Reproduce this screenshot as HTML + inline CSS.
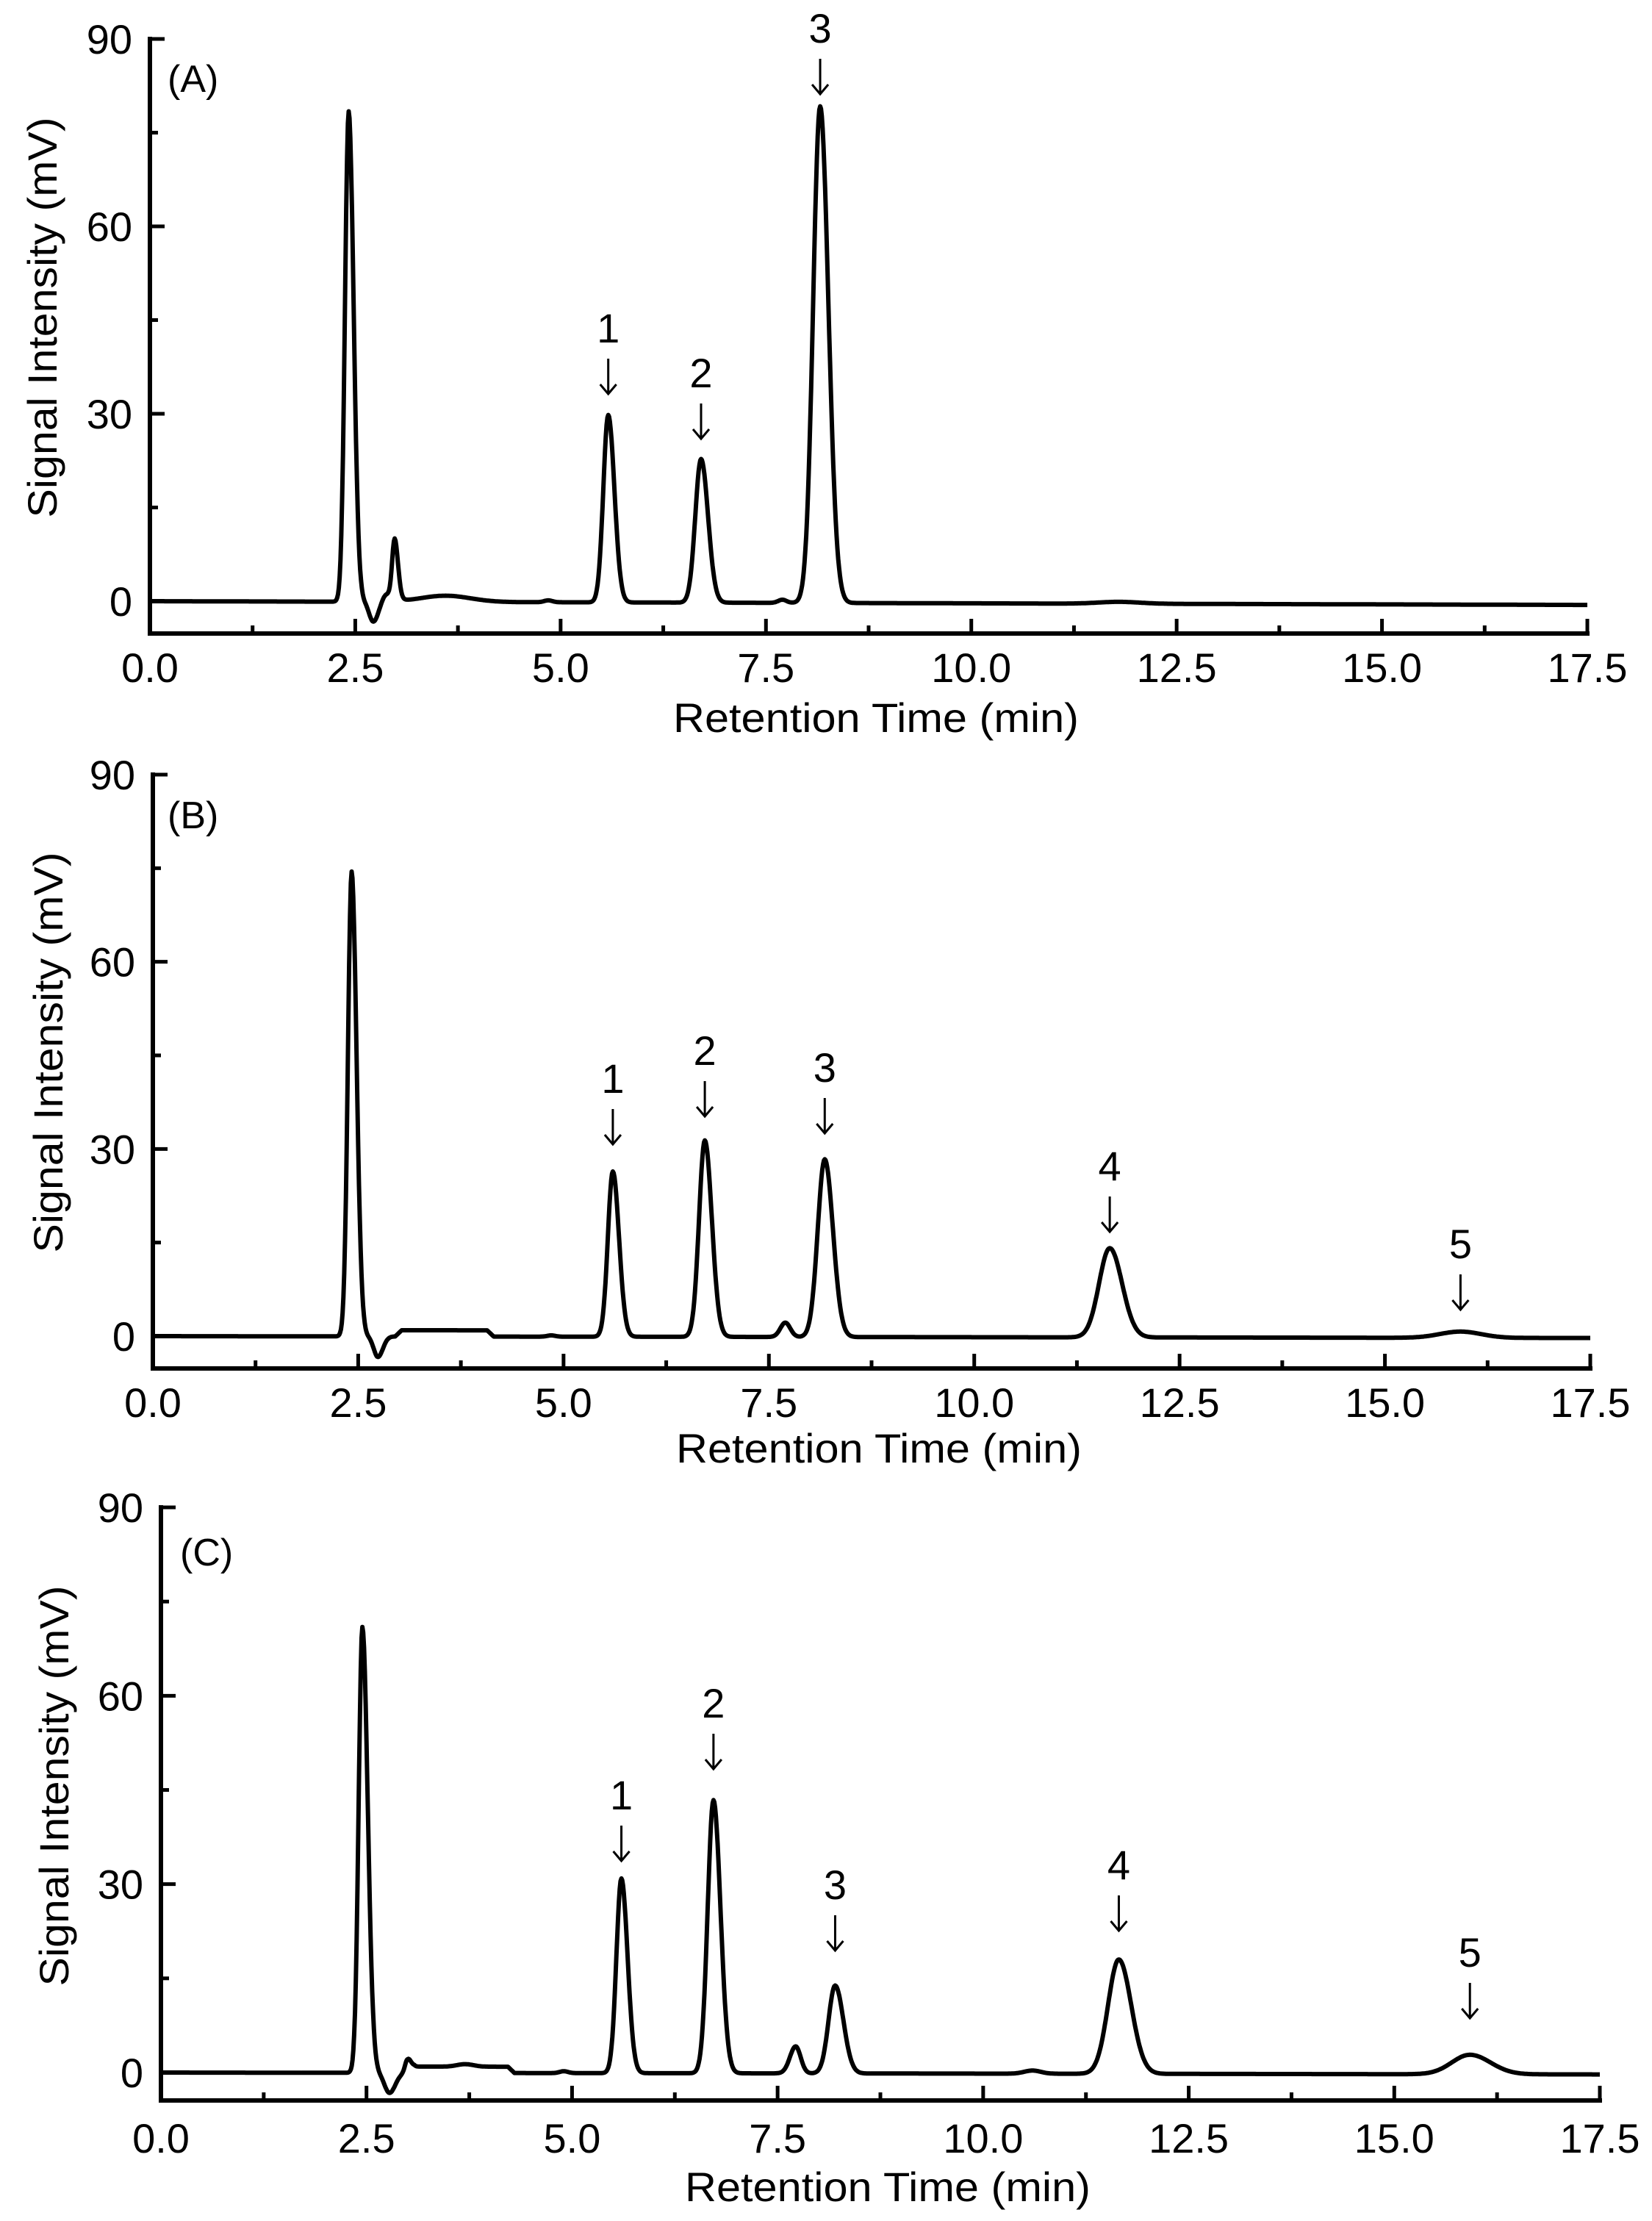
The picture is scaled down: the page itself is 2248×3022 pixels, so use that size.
<!DOCTYPE html>
<html><head><meta charset="utf-8"><style>
html,body{margin:0;padding:0;background:#fff;}
svg{display:block;}
text{font-family:"Liberation Sans",Arial,sans-serif;fill:#000;}
</style></head><body>
<svg id="s" width="2248" height="3022" viewBox="0 0 2248 3022" xmlns="http://www.w3.org/2000/svg">
<rect width="2248" height="3022" fill="#fff"/>
<g id="g"></g>
</svg>
<script>
var NS="http://www.w3.org/2000/svg",G=document.getElementById('g');
function el(t,a,txt){var e=document.createElementNS(NS,t);for(var k in a)e.setAttribute(k,a[k]);if(txt!==undefined)e.textContent=txt;G.appendChild(e);return e;}
function gs(t,c,h,sl,sr){var s=t<c?sl:sr;var d=(t-c)/s;return h*Math.exp(-0.5*d*d);}
function step(t,a,b,h){ if(t<a||t>b) return 0; var r=Math.min((t-a)/0.08,1,(b-t)/0.08); return h*r; }
var panels=[
 {x0:204,x1:2160,y0:818,y90:53,ax:862,lab:"(A)",lx:228,ly:125,ytx:57,yty:432,xtb:928,xttb:996,
  peaks:[[2.42,78.5,0.045,0.06],[2.72,-3.2,0.05,0.06],[2.98,9.3,0.03,0.04],[2.88,1.2,0.05,0.1],[3.6,1.0,0.3,0.3],[4.85,0.3,0.05,0.05],[5.58,30,0.06,0.075],[6.71,23,0.07,0.085],[7.7,0.5,0.05,0.05],[8.16,79.5,0.085,0.1],[11.8,0.3,0.25,0.25]],
  drift:-0.6,plat:null,
  labels:[[5.58,"1",466],[6.71,"2",527],[8.16,"3",58]]},
 {x0:208,x1:2164,y0:1818,y90:1054,ax:1862,lab:"(B)",lx:228,ly:1127,ytx:65,yty:1432,xtb:1928,xttb:1990,
  peaks:[[2.42,74.5,0.045,0.06],[2.74,-3.3,0.05,0.06],[4.85,0.2,0.05,0.05],[5.6,26.5,0.06,0.075],[6.72,31.5,0.07,0.085],[7.7,2.3,0.06,0.06],[8.18,28.5,0.085,0.1],[11.65,14.3,0.13,0.15],[15.92,1.0,0.25,0.25]],
  drift:-0.3,plat:[2.95,4.15,1.0],
  labels:[[5.6,"1",1487],[6.72,"2",1449],[8.18,"3",1472],[11.65,"4",1606],[15.92,"5",1712]]},
 {x0:219,x1:2177,y0:2820,y90:2051,ax:2858,lab:"(C)",lx:245,ly:2130,ytx:73,yty:2430,xtb:2929,xttb:2995,
  peaks:[[2.45,71,0.045,0.065],[2.78,-3.2,0.06,0.07],[3.0,2.2,0.03,0.04],[3.7,0.4,0.1,0.1],[4.9,0.3,0.05,0.05],[5.6,31,0.06,0.075],[6.72,43.5,0.07,0.085],[7.72,4.3,0.07,0.06],[8.2,14,0.08,0.1],[10.6,0.5,0.1,0.1],[11.65,18.2,0.13,0.15],[15.92,3.1,0.22,0.25]],
  drift:-0.3,plat:[3.0,4.3,1.0],
  labels:[[5.6,"1",2462],[6.72,"2",2337],[8.2,"3",2584],[11.65,"4",2557],[15.92,"5",2676]]}
];
panels.forEach(function(p){
 var sx=(p.x1-p.x0)/17.5, sy=(p.y0-p.y90)/90;
 function X(t){return p.x0+t*sx;} function Y(v){return p.y0-v*sy;}
 el('path',{d:"M"+p.x0+" "+p.y90+" V"+p.ax+" H"+p.x1,fill:"none",stroke:"#000","stroke-width":6,"stroke-linecap":"square"});
 for(var v=0;v<=90;v+=15){var L=(v%30==0)?20:11;el('line',{x1:p.x0,y1:Y(v),x2:p.x0+L,y2:Y(v),stroke:"#000","stroke-width":5});}
 for(var i=0;i<=14;i++){var t=i*1.25;var L=(i%2==0)?20:11;el('line',{x1:X(t),y1:p.ax,x2:X(t),y2:p.ax-L,stroke:"#000","stroke-width":5});}
 [0,30,60,90].forEach(function(v){el('text',{x:p.x0-24,y:Y(v)+20,"font-size":56,"text-anchor":"end"},String(v));});
 for(var i=0;i<=7;i++){var t=i*2.5;el('text',{x:X(t),y:p.xtb,"font-size":56,"text-anchor":"middle"},t.toFixed(1));}
 el('text',{x:(p.x0+p.x1)/2+10,y:p.xttb,"font-size":56,"text-anchor":"middle",textLength:552,lengthAdjust:"spacingAndGlyphs"},"Retention Time (min)");
 el('text',{x:0,y:0,"font-size":56,"text-anchor":"middle",textLength:545,lengthAdjust:"spacingAndGlyphs",transform:"translate("+(p.ytx+20)+","+p.yty+") rotate(-90)"},"Signal Intensity (mV)");
 el('text',{x:p.lx,y:p.ly,"font-size":52},p.lab);
 var d="";
 for(var t=0;t<=17.5001;t+=0.01){
  var v=p.drift*t/17.5;
  p.peaks.forEach(function(k){v+=gs(t,k[0],k[1],k[2],k[3]);});
  if(p.plat) v+=step(t,p.plat[0],p.plat[1],p.plat[2]);
  d+=(d?"L":"M")+X(t).toFixed(1)+" "+Y(v).toFixed(1);
 }
 el('path',{d:d,fill:"none",stroke:"#000","stroke-width":6,"stroke-linejoin":"round"});
 p.labels.forEach(function(l){
  var x=X(l[0]),b=l[2];
  el('text',{x:x,y:b,"font-size":56,"text-anchor":"middle"},l[1]);
  el('path',{d:"M"+x+" "+(b+22)+" V"+(b+70)+" M"+(x-11)+" "+(b+57)+" L"+x+" "+(b+70)+" L"+(x+11)+" "+(b+57),fill:"none",stroke:"#000","stroke-width":3});
 });
});
</script>
</body></html>
